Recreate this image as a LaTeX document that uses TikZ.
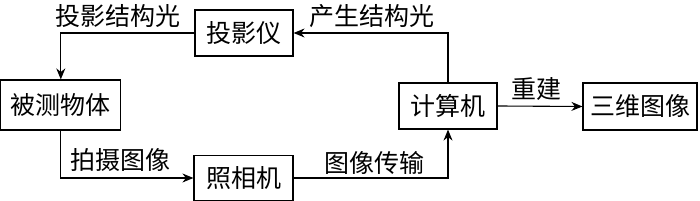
\documentclass[tikz,border=0pt]{standalone}
\usepackage{fontspec}
\setmainfont{Noto Sans CJK SC}
\usetikzlibrary{arrows.meta}
\begin{document}
\begin{tikzpicture}[x=0.5pt,y=-0.5pt,
  box/.style={draw,line width=0.6pt,inner sep=0pt,font=\fontsize{12.5}{14}\selectfont},
  lbl/.style={inner sep=0pt,font=\fontsize{12.5}{14}\selectfont},
  arr/.style={line width=0.55pt,-{Stealth[length=5.5pt,width=4.5pt]}}]
\useasboundingbox (0,0) rectangle (700,201);
\node[box,minimum width=49pt,minimum height=23pt] (proj) at (244,33) {投影仪};
\node[box,minimum width=60pt,minimum height=25pt] (obj) at (60.8,105) {被测物体};
\node[box,minimum width=49.5pt,minimum height=22.5pt] (cam) at (243.5,178) {照相机};
\node[box,minimum width=49pt,minimum height=23pt] (comp) at (448,106) {计算机};
\node[box,minimum width=57pt,minimum height=23.5pt] (img) at (640,106.5) {三维图像};
\node[lbl] (l1) at (118,16) {投影结构光};
\node[lbl] (l2) at (372,16) {产生结构光};
\node[lbl] (l3) at (120,160) {拍摄图像};
\node[lbl] (l4) at (374,163) {图像传输};
\node[lbl] (l5) at (536,89) {重建};
\draw[arr] (comp.north) |- (proj.east);
\draw[arr] (proj.west) -| (obj.north);
\draw[arr] (obj.south) |- (cam.west);
\draw[arr] (cam.east) -| (comp.south);
\draw[arr] (comp.east) -- (img.west);
\end{tikzpicture}
\end{document}
